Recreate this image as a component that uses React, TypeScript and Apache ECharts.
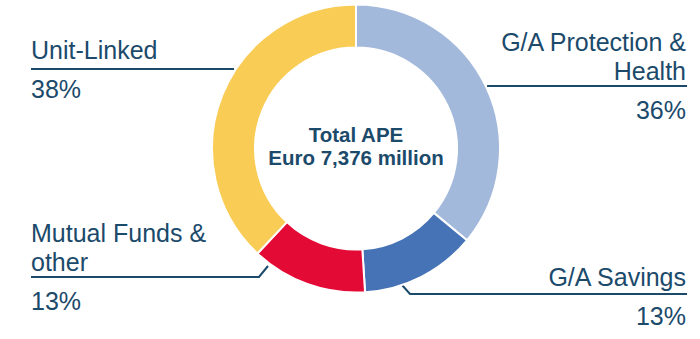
import React, { useEffect, useRef } from 'react';
import * as echarts from 'echarts';

const categories = ['G/A Protection &\nHealth', 'G/A Savings', 'Mutual Funds &\nother', 'Unit-Linked'];
const values = [36, 13, 13, 38];
const colors = ['#A3B9DB', '#4673B5', '#E30B36', '#F9CC55'];
const centerLines = ['Total APE', 'Euro 7,376 million'];

const TEXT = '#1B4A6B';
const FONT = "'Liberation Sans', Arial, sans-serif";

// label placement (layout only)
const labelPos = [
  { x: 686, y: 27, align: 'right', pts: [[487, 86], [487, 86], [687, 86]] },
  { x: 686, y: 262, align: 'right', pts: [[402, 285], [410, 294], [687, 294]] },
  { x: 31, y: 218, align: 'left', pts: [[268, 266], [259, 277], [31, 277]] },
  { x: 31, y: 35, align: 'left', pts: [[234, 69], [234, 69], [31, 69]] },
];

export default function App() {
  const ref = useRef<HTMLDivElement>(null);
  useEffect(() => {
    if (!ref.current) return;
    const chart = echarts.init(ref.current, undefined, { renderer: 'svg' });
    const data = categories.map((name, i) => ({
      name,
      value: values[i],
      itemStyle: { color: colors[i] },
      label: {
        align: labelPos[i].align,
        rich: {
          n: { fontSize: 25, lineHeight: 29, color: TEXT, fontFamily: FONT, align: labelPos[i].align },
          p: { fontSize: 25, lineHeight: 50, color: TEXT, fontFamily: FONT, align: labelPos[i].align },
        },
      },
    }));
    chart.setOption({
      animation: false,
      backgroundColor: '#ffffff',
      series: [
        {
          type: 'pie',
          center: [356, 148.5],
          radius: [101, 144],
          startAngle: 90,
          clockwise: true,
          avoidLabelOverlap: false,
          emphasis: { disabled: true },
          itemStyle: { borderColor: '#ffffff', borderWidth: 2 },
          label: {
            show: true,
            position: 'outside',
            formatter: (p: any) => {
              const lines = String(p.name).split('\n').map((l: string) => `{n|${l}}`).join('\n');
              return `${lines}\n{p|${p.value}%}`;
            },
          },
          labelLine: {
            show: true,
            length: 10,
            length2: 10,
            lineStyle: { color: TEXT, width: 2 },
          },
          labelLayout: (params: any) => {
            const lp = labelPos[params.dataIndex];
            return {
              x: lp.x,
              y: lp.y,
              align: lp.align,
              verticalAlign: 'top',
              labelLinePoints: lp.pts,
            };
          },
          data,
        },
      ],
      graphic: [
        {
          type: 'text',
          x: 356,
          y: 146,
          silent: true,
          style: {
            text: centerLines.join('\n'),
            fill: TEXT,
            fontFamily: FONT,
            fontWeight: 'bold',
            fontSize: 20.5,
            lineHeight: 23,
            align: 'center',
            verticalAlign: 'middle',
          },
        },
      ],
    });
    return () => chart.dispose();
  }, []);
  return <div ref={ref} style={{ position: 'fixed', left: 0, top: 0, width: 700, height: 339 }} />;
}
